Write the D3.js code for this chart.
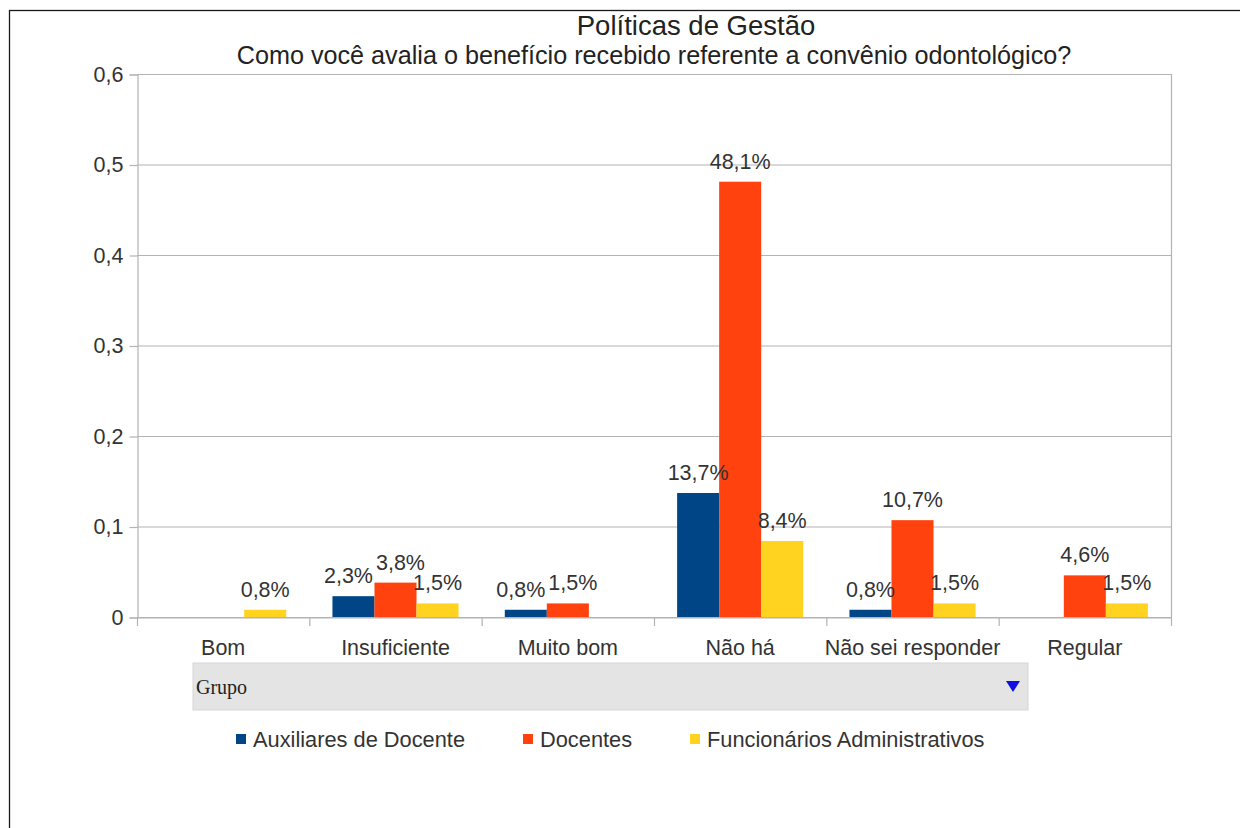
<!DOCTYPE html>
<html><head><meta charset="utf-8">
<script src="https://cdn.jsdelivr.net/npm/d3@7"></script>
<style>
html,body{margin:0;padding:0;background:#fff;}
svg{display:block;font-family:"Liberation Sans",Arial,sans-serif;}
</style></head>
<body>
<svg id="chart" width="1240" height="828"></svg>
<script>
const title = "Políticas de Gestão";
const subtitle = "Como você avalia o benefício recebido referente a convênio odontológico?";
const categories = ["Bom","Insuficiente","Muito bom","Não há","Não sei responder","Regular"];
const seriesNames = ["Auxiliares de Docente","Docentes","Funcionários Administrativos"];
const auxiliares = [null, 0.023, 0.008, 0.137, 0.008, null];
const docentes   = [null, 0.038, 0.015, 0.481, 0.107, 0.046];
const funcionarios = [0.008, 0.015, null, 0.084, 0.015, 0.015];
const yTicks = [0,0.1,0.2,0.3,0.4,0.5,0.6];
const colors = ["#004586","#ff420e","#ffd320"];
const fieldLabel = "Grupo";

const seriesValues = [auxiliares, docentes, funcionarios];
const svg = d3.select("#chart");
const FS = 21.5;

// outer frame
svg.append("rect").attr("x",9.5).attr("y",10.5).attr("width",1300).attr("height",900)
  .attr("fill","none").attr("stroke","#1a1a1a").attr("stroke-width",1.3);

const L=137, R=1171, T=74, B=617;
const x0 = d3.scaleBand().domain(categories).range([L,R]).paddingInner(0).paddingOuter(0);
const x1 = d3.scaleBand().domain(seriesNames).range([0,x0.bandwidth()]).paddingInner(0).paddingOuter(0.55);
const y = d3.scaleLinear().domain([0,0.6]).range([B,T]);

// grid
svg.append("g").selectAll("line").data(yTicks).join("line")
  .attr("x1",L).attr("x2",R).attr("y1",d=>y(d)+0.5).attr("y2",d=>y(d)+0.5)
  .attr("stroke","#b3b3b3").attr("stroke-width",1.2);
svg.append("line").attr("x1",R+0.5).attr("x2",R+0.5).attr("y1",T).attr("y2",B)
  .attr("stroke","#b3b3b3").attr("stroke-width",1.2);

// y axis
const fmtY = d => d===0 ? "0" : d.toFixed(1).replace(".",",");
const yAxis = d3.axisLeft(y).tickValues(yTicks).tickFormat(fmtY).tickSize(8).tickPadding(6);
const gy = svg.append("g").attr("transform",`translate(${L+0.5},0.5)`).call(yAxis);
gy.select(".domain").attr("stroke","#b3b3b3").attr("stroke-width",1.2);
gy.selectAll(".tick line").attr("stroke","#b3b3b3").attr("stroke-width",1.2);
gy.selectAll(".tick text").attr("font-size",FS).attr("fill","#333").attr("font-family","Liberation Sans");

// x axis
const xAxis = d3.axisBottom(x0).tickSize(0).tickPadding(18);
const gx = svg.append("g").attr("transform",`translate(0,${B+0.5})`).call(xAxis);
gx.select(".domain").attr("stroke","#b3b3b3").attr("stroke-width",1.2);
gx.selectAll(".tick text").attr("font-size",FS).attr("fill","#333").attr("font-family","Liberation Sans")
  .attr("dy","0.9em");
const bounds = categories.map(c=>x0(c)).concat([R]);
svg.append("g").selectAll("line").data(bounds).join("line")
  .attr("x1",d=>d+0.5).attr("x2",d=>d+0.5).attr("y1",B).attr("y2",B+9)
  .attr("stroke","#b3b3b3").attr("stroke-width",1.2);

// bars
const rows = [];
categories.forEach((c,i)=>seriesNames.forEach((s,j)=>{
  const v = seriesValues[j][i];
  if (v!=null) rows.push({c,s,j,v});
}));
svg.append("g").selectAll("rect").data(rows).join("rect")
  .attr("x",d=>x0(d.c)+x1(d.s)).attr("width",x1.bandwidth())
  .attr("y",d=>y(d.v)).attr("height",d=>B-y(d.v))
  .attr("fill",d=>colors[d.j]);

// labels with simple overlap avoidance
const fmtP = v => (v*100).toFixed(1).replace(".",",")+"%";
const labels = svg.append("g").selectAll("text").data(rows).join("text")
  .attr("text-anchor","middle").attr("font-size",FS).attr("fill","#333")
  .text(d=>fmtP(d.v));
labels.each(function(d){
  d.w = this.getComputedTextLength();
  d.cx = x0(d.c)+x1(d.s)+x1.bandwidth()/2;
  d.by = y(d.v)-13;
});
const sorted = rows.slice().sort((a,b)=>a.cx-b.cx);
for (let iter=0; iter<6; iter++) {
  for (let k=0;k<sorted.length-1;k++){
    const a=sorted[k], b=sorted[k+1];
    if (Math.abs(a.by-b.by) > 17) continue;
    const gap = (b.cx-b.w/2) - (a.cx+a.w/2);
    if (gap < 3) {
      const push = (3-gap)/2;
      a.cx -= push; b.cx += push;
    }
  }
}
labels.attr("x",d=>d.cx).attr("y",d=>d.by);

// titles
svg.append("text").attr("x",696).attr("y",35).attr("text-anchor","middle")
  .attr("font-size",27.5).attr("fill","#222").text(title);
svg.append("text").attr("x",654).attr("y",64).attr("text-anchor","middle")
  .attr("font-size",25.2).attr("fill","#222").text(subtitle);

// field button
svg.append("rect").attr("x",193).attr("y",663).attr("width",835).attr("height",47)
  .attr("fill","#e4e4e4").attr("stroke","#d6d6d6");
svg.append("text").attr("x",196).attr("y",694).attr("font-family","Liberation Serif")
  .attr("font-size",20).attr("fill","#222").text(fieldLabel);
svg.append("path").attr("d","M1006,681 L1020,681 L1013,692 Z").attr("fill","#1010e0");

// legend
const legendX = [236,523,690];
const lg = svg.append("g").selectAll("g").data(seriesNames).join("g")
  .attr("transform",(d,i)=>`translate(${legendX[i]},734)`);
lg.append("rect").attr("width",10).attr("height",10).attr("fill",(d,i)=>colors[i]);
lg.append("text").attr("x",17).attr("y",13).attr("font-size",FS+0.3).attr("fill","#333").text(d=>d);
</script>
</body></html>
